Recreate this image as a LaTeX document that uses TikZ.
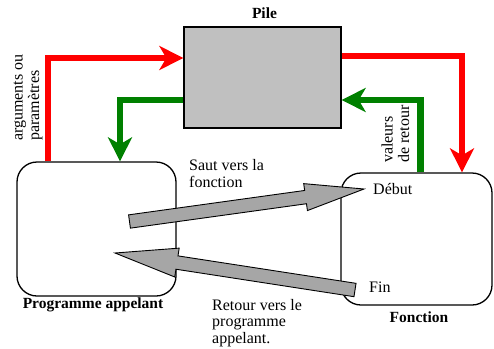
\documentclass[tikz,border=0pt]{standalone}
\usepackage{fontspec}
\setmainfont{Liberation Serif}
\usetikzlibrary{arrows.meta,calc}

\definecolor{stackgray}{HTML}{C0C0C0}
\definecolor{flowgray}{HTML}{A6A6A6}
\definecolor{flowred}{HTML}{FF0000}
\definecolor{flowgreen}{HTML}{008000}

\begin{document}
\begin{tikzpicture}[x=1pt,y=-1pt,
  txt/.style={inner sep=0pt, font=\fontsize{16}{16.5}\selectfont},
  title/.style={inner sep=0pt, font=\fontsize{15.5}{17}\selectfont\bfseries},
  roundbox/.style={draw, line width=1.3pt, rounded corners=20pt, inner sep=0pt},
  stackbox/.style={draw, line width=1.3pt, fill=stackgray, inner sep=0pt},
  datatip/.style={-{Stealth[length=24pt,width=24pt,inset=7pt]}},
  pushline/.style={datatip, draw=flowred, line width=6.5pt},
  popline/.style={datatip, draw=flowgreen, line width=6.5pt},
  blockarrow/.style={draw, line width=0.9pt, fill=flowgray, line join=miter}
]
\useasboundingbox (0,0) rectangle (494,348);

% stack and the two code blocks
\node[stackbox, minimum width=157pt, minimum height=101pt] (pile) at (262.5,77.5) {};
\node[roundbox, minimum width=159pt, minimum height=134pt] (prog) at (96.5,229) {};
\node[roundbox, minimum width=151pt, minimum height=132pt] (fonc) at (416.5,239) {};

% titles
\node[title, anchor=base] (pilelbl) at (264.5,18) {Pile};
\node[title, anchor=base] (proglbl) at (93,308) {Programme appelant};
\node[title, anchor=base] (fonclbl) at (419,322) {Fonction};

% data exchanged through the stack
\draw[pushline] (prog.north -| 48,0) |- (pile.west |- 0,58);
\draw[pushline] (pile.east |- 0,56) -| (fonc.north -| 462,0);
\draw[popline] (fonc.north -| 420.5,0) |- (pile.east |- 0,100);
\draw[popline] (pile.west |- 0,100) -| (prog.north -| 120,0);

% multi-line nodes sit on the baseline of their last line
\node[txt, align=left, rotate=90, anchor=base west] (args) at (39,141) {arguments ou\\paramètres};
\node[txt, align=left, rotate=90, anchor=base west] (vals) at (409,163) {valeurs\\de retour};

% control flow: call
\coordinate (jt) at (129.5,221.5);
\coordinate (jh) at (364,189);
\coordinate (jb) at ($(jh)!59pt!(jt)$);
\draw[blockarrow] ($(jt)!6.7pt!90:(jh)$) -- ($(jb)!6.7pt!90:(jh)$) -- ($(jb)!13.6pt!90:(jh)$)
  -- (jh) -- ($(jb)!13.6pt!-90:(jh)$) -- ($(jb)!6.7pt!-90:(jh)$) -- ($(jt)!6.7pt!-90:(jh)$) -- cycle;

% control flow: return
\coordinate (rt) at (355,290);
\coordinate (rh) at (115,253);
\coordinate (rb) at ($(rh)!62.7pt!(rt)$);
\draw[blockarrow] ($(rt)!6.75pt!90:(rh)$) -- ($(rb)!6.75pt!90:(rh)$) -- ($(rb)!14.6pt!90:(rh)$)
  -- (rh) -- ($(rb)!14.6pt!-90:(rh)$) -- ($(rb)!6.75pt!-90:(rh)$) -- ($(rt)!6.75pt!-90:(rh)$) -- cycle;

% labels
\node[txt, align=left, anchor=base west] (saut) at (189,187) {Saut vers la\\fonction};
\node[txt, align=left, anchor=base west] (retour) at (212,343) {Retour vers le\\programme\\appelant.};
\node[txt, anchor=base west] (debut) at (373,194) {Début};
\node[txt, anchor=base west] (fin) at (369,292) {Fin};
\end{tikzpicture}
\end{document}
